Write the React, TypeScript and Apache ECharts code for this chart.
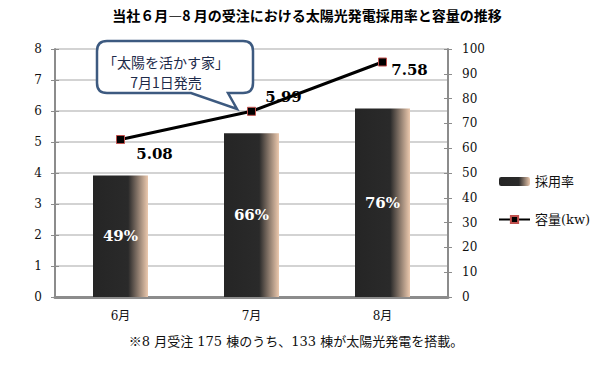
import React, { useEffect, useRef } from "react";
import * as echarts from "echarts";

const categories = ["6月", "7月", "8月"];
const adoptionRate = [49, 66, 76];
const capacity = [5.08, 5.99, 7.58];
const capacityLabelOffsets = [
  [34, 14],
  [32, -14],
  [27, 8],
];
const titleText = "当社６月―8 月の受注における太陽光発電採用率と容量の推移";
const noteText = "※8 月受注 175 棟のうち、133 棟が太陽光発電を搭載。";
const calloutLines = ["「太陽を活かす家」", "7月1日発売"];

const SERIF = '"DejaVu Serif", "Noto Sans CJK JP", serif';
const CJK = '"Noto Sans CJK JP", sans-serif';

echarts.graphic.registerShape(
  "callout",
  echarts.graphic.extendPath(
    "M107,41 L243,41 Q253,41 253,51 L253,83 Q253,93 243,93 L228,93 L237,109 L191,93 L107,93 Q97,93 97,83 L97,51 Q97,41 107,41 Z",
    {}
  )
);

export default function App() {
  const ref = useRef<HTMLDivElement>(null);
  useEffect(() => {
    document.body.style.margin = "0";
    const chart = echarts.init(ref.current!, null, { renderer: "svg" });
    const axisColor = "#8c8c8c";
    const barGradient = new echarts.graphic.LinearGradient(0, 0, 1, 0, [
      { offset: 0, color: "#252525" },
      { offset: 0.64, color: "#2a2a2a" },
      { offset: 1, color: "#ecc9ae" },
    ]);
    chart.setOption({
      animation: false,
      backgroundColor: "#ffffff",
      grid: { left: 55, right: 147, top: 49, bottom: 68 },
      legend: {
        orient: "vertical",
        left: 493,
        top: 170,
        itemWidth: 31,
        itemHeight: 9,
        itemGap: 25,
        textStyle: { fontFamily: SERIF, fontSize: 13, color: "#111" },
        data: ["採用率", "容量(kw)"],
      },
      xAxis: {
        type: "category",
        data: categories,
        axisLine: { lineStyle: { color: axisColor, width: 3 } },
        axisTick: { show: false },
        axisLabel: { fontFamily: SERIF, fontSize: 12, color: "#111", margin: 13 },
      },
      yAxis: [
        {
          type: "value",
          position: "left",
          min: 0,
          max: 8,
          interval: 1,
          axisLine: { show: true, lineStyle: { color: axisColor, width: 2 } },
          axisTick: { show: true, length: 4, lineStyle: { color: axisColor } },
          axisLabel: { fontFamily: SERIF, fontSize: 12, color: "#111", margin: 13 },
          splitLine: { show: true, lineStyle: { color: "#c4c4c4", width: 1.5 } },
        },
        {
          type: "value",
          position: "right",
          min: 0,
          max: 100,
          interval: 10,
          axisLine: { show: true, lineStyle: { color: axisColor, width: 2 } },
          axisTick: { show: true, length: 4, lineStyle: { color: axisColor } },
          axisLabel: { fontFamily: SERIF, fontSize: 12, color: "#111", margin: 14 },
          splitLine: { show: false },
        },
        {
          type: "value",
          position: "left",
          min: 0,
          max: 8,
          interval: 1,
          axisLine: { show: false },
          axisTick: { show: true, inside: true, length: 4, lineStyle: { color: axisColor } },
          axisLabel: { show: false },
          splitLine: { show: false },
        },
        {
          type: "value",
          position: "right",
          min: 0,
          max: 100,
          interval: 10,
          axisLine: { show: false },
          axisTick: { show: true, inside: true, length: 4, lineStyle: { color: axisColor } },
          axisLabel: { show: false },
          splitLine: { show: false },
        },
      ],
      series: [
        {
          name: "採用率",
          type: "bar",
          yAxisIndex: 1,
          barWidth: 55,
          data: adoptionRate,
          itemStyle: { color: barGradient },
          label: {
            show: true,
            position: "inside",
            formatter: "{c}%",
            color: "#ffffff",
            fontFamily: SERIF,
            fontWeight: "bold",
            fontSize: 15,
          },
        },
        {
          name: "容量(kw)",
          type: "line",
          yAxisIndex: 0,
          symbol: "rect",
          symbolSize: 8,
          lineStyle: { color: "#000", width: 3 },
          itemStyle: { color: "#000", borderColor: "#c0504d", borderWidth: 1 },
          data: capacity.map((v, i) => ({
            value: v,
            label: { offset: capacityLabelOffsets[i] },
          })),
          label: {
            show: true,
            position: "inside",
            formatter: (p: any) => p.value.toFixed(2),
            color: "#000",
            fontFamily: SERIF,
            fontWeight: "bold",
            fontSize: 15,
          },
          z: 5,
        },
      ],
      graphic: [
        {
          type: "text",
          x: 307,
          y: 15,
          style: {
            text: titleText,
            align: "center",
            verticalAlign: "middle",
            fill: "#000",
            font: `bold 14px ${CJK}`,
          },
        },
        {
          type: "callout",
          x: 0,
          y: 0,
          z: 100,
          style: { fill: "#ffffff", stroke: "#3d5a80", lineWidth: 2.5 },
        },
        {
          type: "text",
          x: 166,
          y: 62,
          z: 101,
          style: {
            text: calloutLines[0],
            align: "center",
            verticalAlign: "middle",
            fill: "#1d2b4a",
            font: `14px ${CJK}`,
          },
        },
        {
          type: "text",
          x: 166,
          y: 82,
          z: 101,
          style: {
            text: calloutLines[1],
            align: "center",
            verticalAlign: "middle",
            fill: "#1d2b4a",
            font: `14px ${CJK}`,
          },
        },
        {
          type: "text",
          x: 296,
          y: 341,
          style: {
            text: noteText,
            align: "center",
            verticalAlign: "middle",
            fill: "#111",
            font: `13px ${SERIF}`,
          },
        },
      ],
    });
    return () => chart.dispose();
  }, []);
  return <div ref={ref} style={{ width: 595, height: 365 }} />;
}
